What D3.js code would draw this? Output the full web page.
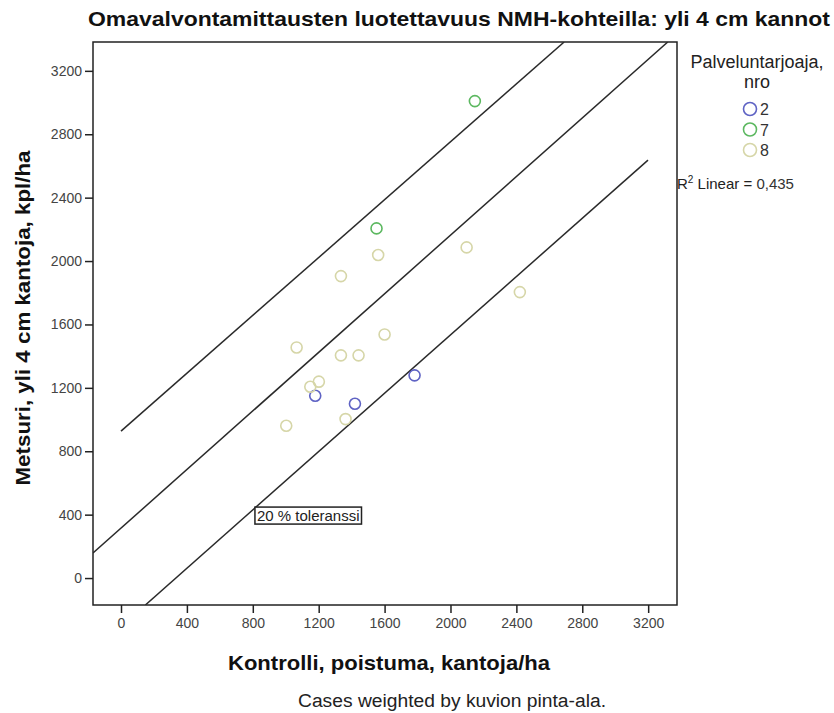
<!DOCTYPE html>
<html><head><meta charset="utf-8">
<script src="https://cdn.jsdelivr.net/npm/d3@7"></script>
<style>body{margin:0;background:#fff;} svg{display:block;font-family:"Liberation Sans",Arial,sans-serif;}</style>
</head><body>
<svg id="c" width="834" height="713"></svg>
<script>
const groups = ["2", "7", "8"];
const groupColors = ["#5f63c4", "#5cb860", "#d6d6a8"];
const kontrolli2 = [1179, 1420, 1782];
const metsuri2   = [1150, 1100, 1279];
const kontrolli7 = [1551, 2148];
const metsuri7   = [2206, 3009];
const kontrolli8 = [1066, 1335, 1561, 1335, 1442, 1600, 1149, 1201, 1363, 1003, 2098, 2421];
const metsuri8   = [1455, 1905, 2038, 1405, 1405, 1537, 1207, 1239, 1003, 961, 2086, 1804];
const xTicks = [0, 400, 800, 1200, 1600, 2000, 2400, 2800, 3200];
const yTicks = [0, 400, 800, 1200, 1600, 2000, 2400, 2800, 3200];
const upperLine = [[0, 927], [2690, 3382]];
const fitLine = [[-170, 158], [3319, 3382]];
const lowerLine = [[148, -170], [3199, 2637]];
const annotation = {x: 813, y: 391, text: "20 % toleranssi"};
const r2Text = "0,435";

const svg = d3.select("#c");
const L = 93, R = 677, T = 42, B = 605;
const x = d3.scaleLinear().domain([-170, 3375]).range([L, R]);
const y = d3.scaleLinear().domain([-170, 3382]).range([B, T]);

// frame
svg.append("rect").attr("x", L).attr("y", T).attr("width", R - L).attr("height", B - T)
  .attr("fill", "none").attr("stroke", "#222").attr("stroke-width", 1.5);

// axes
const xAxis = svg.append("g").attr("transform", `translate(0,${B})`)
  .call(d3.axisBottom(x).tickValues(xTicks).tickSize(8).tickPadding(5).tickFormat(d3.format("d")));
const yAxis = svg.append("g").attr("transform", `translate(${L},0)`)
  .call(d3.axisLeft(y).tickValues(yTicks).tickSize(8).tickPadding(3).tickFormat(d3.format("d")));
[xAxis, yAxis].forEach(a => {
  a.select(".domain").remove();
  a.selectAll(".tick line").attr("stroke", "#222").attr("stroke-width", 1.5);
  a.selectAll(".tick text").attr("fill", "#444").style("font-size", "14px")
    .style("font-family", '"Liberation Sans",Arial,sans-serif');
});

// clip
svg.append("clipPath").attr("id", "clip").append("rect")
  .attr("x", L).attr("y", T).attr("width", R - L).attr("height", B - T);
const plot = svg.append("g").attr("clip-path", "url(#clip)");

const line = d3.line().x(d => x(d[0])).y(d => y(d[1]));
[upperLine, fitLine, lowerLine].forEach(l => {
  plot.append("path").attr("d", line(l)).attr("fill", "none")
    .attr("stroke", "#2a2a2a").attr("stroke-width", 1.5);
});

const series = [[kontrolli2, metsuri2], [kontrolli7, metsuri7], [kontrolli8, metsuri8]];
series.forEach((s, i) => {
  plot.selectAll(null).data(s[0]).enter().append("circle")
    .attr("cx", d => x(d)).attr("cy", (d, j) => y(s[1][j])).attr("r", 5.5)
    .attr("fill", "none").attr("stroke", groupColors[i]).attr("stroke-width", 1.6);
});

// annotation
const ag = svg.append("g");
const at = ag.append("text").attr("x", x(annotation.x) + 2).attr("y", y(annotation.y) + 5)
  .attr("fill", "#222").style("font-size", "15px").text(annotation.text);
const bb = at.node().getBBox();
ag.insert("rect", "text").attr("x", bb.x - 2).attr("y", bb.y)
  .attr("width", bb.width + 4).attr("height", bb.height)
  .attr("fill", "#fff").attr("stroke", "#222").attr("stroke-width", 1.5);

// title
svg.append("text").attr("x", 459).attr("y", 26).attr("text-anchor", "middle")
  .attr("fill", "#111").style("font-size", "21px").style("font-weight", "bold")
  .attr("textLength", 742).attr("lengthAdjust", "spacingAndGlyphs")
  .text("Omavalvontamittausten luotettavuus NMH-kohteilla: yli 4 cm kannot");

// axis titles
svg.append("text").attr("x", 389).attr("y", 670).attr("text-anchor", "middle")
  .attr("fill", "#111").style("font-size", "21px").style("font-weight", "bold")
  .attr("textLength", 322).attr("lengthAdjust", "spacingAndGlyphs")
  .text("Kontrolli, poistuma, kantoja/ha");
svg.append("text").attr("transform", "translate(30,318) rotate(-90)").attr("text-anchor", "middle")
  .attr("fill", "#111").style("font-size", "21px").style("font-weight", "bold")
  .attr("textLength", 335).attr("lengthAdjust", "spacingAndGlyphs")
  .text("Metsuri, yli 4 cm kantoja, kpl/ha");

// footer
svg.append("text").attr("x", 452).attr("y", 707).attr("text-anchor", "middle")
  .attr("fill", "#222").style("font-size", "18px")
  .attr("textLength", 308).attr("lengthAdjust", "spacingAndGlyphs")
  .text("Cases weighted by kuvion pinta-ala.");

// legend
svg.append("text").attr("x", 757).attr("y", 68).attr("text-anchor", "middle")
  .attr("fill", "#222").style("font-size", "18px").text("Palveluntarjoaja,");
svg.append("text").attr("x", 757).attr("y", 88).attr("text-anchor", "middle")
  .attr("fill", "#222").style("font-size", "18px").text("nro");
const lg = svg.append("g");
groups.forEach((g, i) => {
  lg.append("circle").attr("cx", 750).attr("cy", 109 + i * 20.5).attr("r", 6.5)
    .attr("fill", "none").attr("stroke", groupColors[i]).attr("stroke-width", 1.6);
  lg.append("text").attr("x", 760).attr("y", 115 + i * 20.5).attr("fill", "#333")
    .style("font-size", "16px").text(g);
});
const rt = svg.append("text").attr("x", 677).attr("y", 189).attr("fill", "#222").style("font-size", "15px");
rt.append("tspan").text("R");
rt.append("tspan").attr("dy", -6).style("font-size", "10px").text("2");
rt.append("tspan").attr("dy", 6).text(" Linear = ");
rt.append("tspan").attr("fill", "#333").text(r2Text);
</script>
</body></html>
